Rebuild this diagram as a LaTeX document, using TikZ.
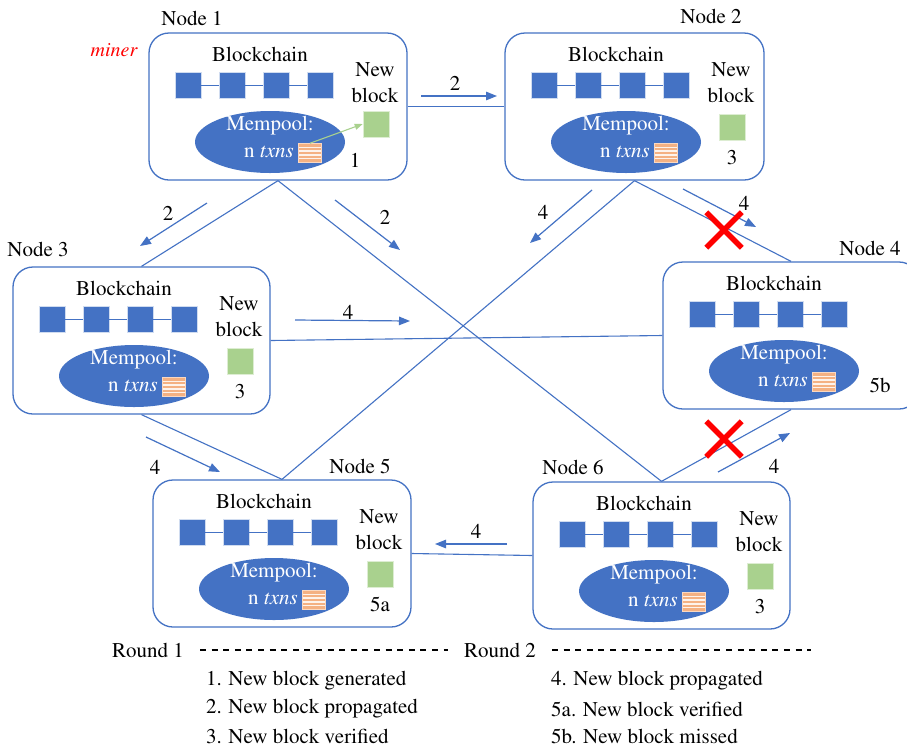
\documentclass[tikz,border=0pt]{standalone}
\usepackage[T1]{fontenc}
\renewcommand{\rmdefault}{ptm}
\usetikzlibrary{shapes.geometric,shapes.misc,arrows.meta}
\definecolor{bblue}{HTML}{4472C4}
\definecolor{bgreen}{HTML}{A9D18E}
\definecolor{borange}{HTML}{F4B183}

\tikzset{
  lbl/.style={inner sep=0pt},
  nodebox/.style={draw=bblue, line width=1.3pt, rounded corners=20pt, fill=white, minimum height=147pt, inner sep=0pt},
  blk/.style={fill=bblue, draw=bblue!25!white, line width=0.6pt, minimum size=26pt, inner sep=0pt},
  chainline/.style={draw=bblue, line width=1pt},
  mempool/.style={ellipse, fill=bblue, minimum width=150pt, minimum height=62pt, inner sep=0pt},
  wtext/.style={inner sep=0pt, text=white},
  txicon/.style={fill=borange, draw=borange!50!white, line width=0.5pt, minimum width=23pt, minimum height=19pt, inner sep=0pt,
    path picture={\foreach \k in {1,...,4}{\draw[white!85!borange, line width=1.3pt] ([yshift=-\k*3.8pt]path picture bounding box.north west) -- ([yshift=-\k*3.8pt]path picture bounding box.north east);}}},
  gsq/.style={fill=bgreen, draw=bgreen!40!white, line width=0.6pt, minimum size=26pt, inner sep=0pt},
  conn/.style={draw=bblue, line width=1.1pt},
  parr/.style={draw=bblue, line width=1.2pt, -{Triangle[length=11pt,width=8.5pt]}},
  garr/.style={draw=bgreen, line width=1.1pt, -{Triangle[length=8pt,width=6pt]}},
  redx/.style={cross out, draw=red, line width=5.5pt, minimum size=30pt, inner sep=0pt},
  dashline/.style={draw=black, line width=1.1pt, dash pattern=on 6pt off 5.6pt}
}

% #1 name, #2 left x, #3 top y, #4 width
\newcommand\chainbox[4]{%
  \node[nodebox, minimum width=#4pt] (#1) at ({#2+#4/2},{#3+73.5}) {};
  \begin{scope}[shift={(#2,#3)}]
    \node[lbl] (#1-bc) at (111,21) {Blockchain};
    \node[blk] (#1-b1) at (39,52) {};
    \node[blk] (#1-b2) at (83,52) {};
    \node[blk] (#1-b3) at (127,52) {};
    \node[blk] (#1-b4) at (171,52) {};
    \draw[chainline] (#1-b1) -- (#1-b2) -- (#1-b3) -- (#1-b4);
    \node[mempool] (#1-mp) at (121,109) {};
    \node[wtext] (#1-mt) at (121,93) {Mempool:};
    \node[txicon] (#1-tx) at (161,120) {};
    \node[wtext, anchor=east] (#1-nt) at (145,119) {n \textit{txns}};
  \end{scope}}

% #1 name, #2 left x, #3 top y, #4 number
\newcommand\newblk[4]{%
  \begin{scope}[shift={(#2,#3)}]
    \node[lbl, align=center] (#1-nbt) at (226,50) {New\\block};
    \node[gsq] (#1-nb) at (227,94) {};
    \node[lbl] (#1-num) at (227,124) {#4};
  \end{scope}}

\begin{document}
\begin{tikzpicture}[x=1pt,y=-1pt, every node/.style={font=\fontsize{21}{26}\selectfont}]
\path[use as bounding box, fill=white] (0,0) rectangle (907,748);

% boxes
\chainbox{n1}{149}{33}{258}
\chainbox{n2}{505}{33}{259}
\chainbox{n3}{13}{267}{257}
\chainbox{n4}{663}{262}{256}
\chainbox{n5}{153}{480}{258}
\chainbox{n6}{533}{482}{257}

\begin{scope}[shift={(149,33)}]
  \node[lbl, align=center] (n1-nbt) at (226,50) {New\\block};
  \node[gsq] (n1-nb) at (227,91) {};
  \node[lbl] (n1-num) at (206,127) {1};
\end{scope}
\newblk{n2}{505}{33}{3}
\newblk{n3}{13}{267}{3}
\newblk{n5}{153}{480}{5a}
\newblk{n6}{533}{482}{3}
\node[lbl] (n4-num) at (880,385) {5b};

\draw[garr] (n1-tx.north) -- (n1-nb.west);

% node titles
\node[lbl] (n1-lab) at (192,18) {Node 1};
\node[lbl] (n2-lab) at (711,16) {Node 2};
\node[lbl] (n3-lab) at (38,249) {Node 3};
\node[lbl] (n4-lab) at (870,248) {Node 4};
\node[lbl] (n5-lab) at (360,466) {Node 5};
\node[lbl] (n6-lab) at (573,467) {Node 6};
\node[lbl, text=red, font=\fontsize{20}{22}\selectfont\itshape] (miner) at (114,50) {miner};

% connectors
\draw[conn] (n1.east) -- (n2.west);
\draw[conn] (n1.south) -- (n3.north);
\draw[conn] (n1.south) -- (n6.north);
\draw[conn] (n2.south) -- (n5.north);
\draw[conn] (n2.south) -- (n4.north);
\draw[conn] (n3.east) -- (n4.west);
\draw[conn] (n3.south) -- (n5.north);
\draw[conn] (n6.north) -- (n4.south);
\draw[conn] (n6.west) -- (n5.east);

% propagation arrows
\coordinate (a12s) at (421,96);  \coordinate (a12e) at (497,96);
\coordinate (a13s) at (207,203); \coordinate (a13e) at (140,246);
\coordinate (a16s) at (335,200); \coordinate (a16e) at (400,250);
\coordinate (a25s) at (592,190); \coordinate (a25e) at (530,243);
\coordinate (a24s) at (683,189); \coordinate (a24e) at (756,227);
\coordinate (a34s) at (295,320); \coordinate (a34e) at (410,321);
\coordinate (a35s) at (146,437); \coordinate (a35e) at (220,472);
\coordinate (a64s) at (718,472); \coordinate (a64e) at (790,433);
\coordinate (a65s) at (507,544); \coordinate (a65e) at (435,544);
\draw[parr] (a12s) -- (a12e);
\draw[parr] (a13s) -- (a13e);
\draw[parr] (a16s) -- (a16e);
\draw[parr] (a25s) -- (a25e);
\draw[parr] (a24s) -- (a24e);
\draw[parr] (a34s) -- (a34e);
\draw[parr] (a35s) -- (a35e);
\draw[parr] (a64s) -- (a64e);
\draw[parr] (a65s) -- (a65e);

\node[lbl] (l12) at (455,83) {2};
\node[lbl] (l13) at (168,213) {2};
\node[lbl] (l16) at (385,217) {2};
\node[lbl] (l25) at (543,212) {4};
\node[lbl] (l24) at (744,203) {4};
\node[lbl] (l34) at (348,312) {4};
\node[lbl] (l35) at (155,467) {4};
\node[lbl] (l64) at (774,466) {4};
\node[lbl] (l65) at (476,531) {4};

\node[redx] (x1) at (724,230) {};
\node[redx] (x2) at (724,439) {};

% legend
\node[lbl] (r1) at (148,650) {Round 1};
\coordinate (r1a) at (200,650); \coordinate (r1b) at (448,650);
\draw[dashline] (r1a) -- (r1b);
\node[lbl] (r2) at (500,650) {Round 2};
\coordinate (r2a) at (552,650); \coordinate (r2b) at (811,650);
\draw[dashline] (r2a) -- (r2b);

\node[lbl, anchor=west] (g1) at (206,681) {1. New block generated};
\node[lbl, anchor=west] (g2) at (206,709) {2. New block propagated};
\node[lbl, anchor=west] (g3) at (206,736) {3. New block verified};
\node[lbl, anchor=west] (g4) at (551,681) {4. New block propagated};
\node[lbl, anchor=west] (g5) at (551,709) {5a. New block verified};
\node[lbl, anchor=west] (g6) at (551,736) {5b. New block missed};
\end{tikzpicture}
\end{document}
